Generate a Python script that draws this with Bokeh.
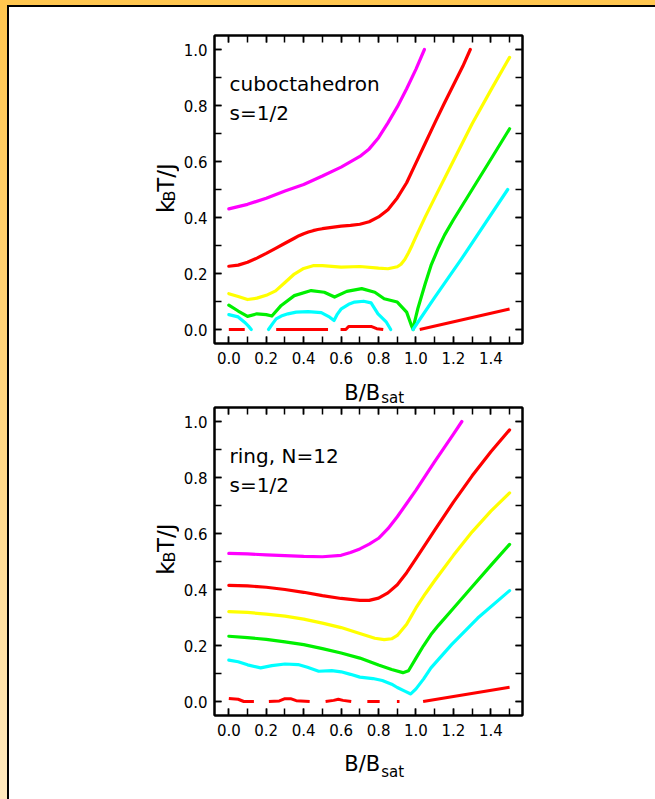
import math
from bokeh.plotting import figure
from bokeh.layouts import column, row
from bokeh.models import (LinearAxis, SingleIntervalTicker, Range1d, Label, CustomJSTickFormatter,
                          PrintfTickFormatter)
from bokeh.core.properties import value
from bokeh.embed import file_html
from bokeh.resources import INLINE

# ---------------- data: cuboctahedron, s=1/2 ----------------
cubo_magenta_x = [0, 0.1, 0.2, 0.3, 0.4, 0.5, 0.6, 0.7, 0.75, 0.8, 0.85, 0.9, 0.95, 1.0, 1.045]
cubo_magenta_y = [0.431, 0.447, 0.469, 0.495, 0.518, 0.548, 0.580, 0.618, 0.645, 0.685, 0.738, 0.795, 0.860, 0.930, 1.0]

cubo_red_x = [0, 0.05, 0.1, 0.15, 0.2, 0.25, 0.3, 0.35, 0.375, 0.4, 0.425, 0.45, 0.475, 0.5, 0.55, 0.6, 0.65, 0.7,
              0.75, 0.8, 0.85, 0.9, 0.95, 1.0, 1.05, 1.1, 1.15, 1.2, 1.25, 1.29]
cubo_red_y = [0.226, 0.230, 0.240, 0.255, 0.272, 0.290, 0.308, 0.326, 0.335, 0.342, 0.348, 0.353, 0.357, 0.360, 0.365,
              0.369, 0.372, 0.376, 0.385, 0.402, 0.428, 0.470, 0.524, 0.595, 0.666, 0.737, 0.806, 0.873, 0.940, 1.0]

cubo_yellow_x = [0, 0.05, 0.1, 0.15, 0.2, 0.25, 0.3, 0.35, 0.4, 0.45, 0.5, 0.6, 0.7, 0.8, 0.85, 0.9, 0.92, 0.94, 0.96,
                 0.98, 1.0, 1.05, 1.1, 1.2, 1.3, 1.4, 1.5]
cubo_yellow_y = [0.128, 0.118, 0.107, 0.112, 0.122, 0.138, 0.168, 0.198, 0.218, 0.228, 0.228, 0.223, 0.225, 0.219, 0.217,
                 0.224, 0.233, 0.250, 0.274, 0.302, 0.332, 0.403, 0.470, 0.603, 0.735, 0.855, 0.972]

cubo_green_x = [0, 0.05, 0.1, 0.15, 0.2, 0.23, 0.28, 0.35, 0.44, 0.51, 0.565, 0.63, 0.71, 0.78, 0.83, 0.9, 0.95, 0.975,
                0.985, 0.99, 1.0, 1.01, 1.029, 1.05, 1.082, 1.12, 1.153, 1.2, 1.3, 1.4, 1.5]
cubo_green_y = [0.087, 0.066, 0.047, 0.056, 0.053, 0.048, 0.086, 0.121, 0.139, 0.133, 0.116, 0.136, 0.146, 0.133, 0.110,
                0.098, 0.062, 0.015, 0.0, 0.020, 0.048, 0.075, 0.118, 0.165, 0.232, 0.292, 0.338, 0.392, 0.500, 0.608, 0.717]

cubo_cyan_x = [[0, 0.05, 0.084, 0.105, 0.12],
               [0.212, 0.235, 0.253, 0.28, 0.316, 0.36, 0.423, 0.494, 0.539, 0.562, 0.58, 0.601, 0.64, 0.672, 0.72, 0.76, 0.797, 0.842, 0.865],
               [0.984, 1.1, 1.243, 1.49]]
cubo_cyan_y = [[0.053, 0.045, 0.026, 0.012, 0.0],
               [0.0, 0.022, 0.038, 0.048, 0.056, 0.062, 0.064, 0.060, 0.044, 0.032, 0.055, 0.074, 0.090, 0.098, 0.101, 0.095, 0.056, 0.026, 0.0],
               [0.0, 0.115, 0.252, 0.500]]

cubo_ground_x = [[0, 0.085], [0.253, 0.53], [0.597, 0.625, 0.64, 0.76, 0.79, 0.825], [1.02, 1.5]]
cubo_ground_y = [[0, 0], [0, 0], [0, 0.0, 0.011, 0.011, 0.003, 0.0], [0, 0.073]]

# ---------------- data: ring N=12, s=1/2 ----------------
ring_magenta_x = [0, 0.1, 0.2, 0.3, 0.4, 0.5, 0.6, 0.65, 0.7, 0.75, 0.8, 0.85, 0.9, 0.95, 1.0, 1.1, 1.2, 1.245]
ring_magenta_y = [0.529, 0.527, 0.524, 0.521, 0.518, 0.517, 0.522, 0.532, 0.545, 0.562, 0.583, 0.617, 0.660, 0.707, 0.755, 0.857, 0.955, 1.0]

ring_red_x = [0, 0.1, 0.2, 0.3, 0.4, 0.5, 0.6, 0.7, 0.75, 0.8, 0.85, 0.9, 0.95, 1.0, 1.1, 1.2, 1.3, 1.4, 1.5]
ring_red_y = [0.415, 0.413, 0.408, 0.400, 0.390, 0.378, 0.368, 0.361, 0.361, 0.369, 0.388, 0.417, 0.460, 0.510, 0.612, 0.712, 0.806, 0.892, 0.970]

ring_yellow_x = [0, 0.1, 0.2, 0.3, 0.4, 0.5, 0.6, 0.7, 0.78, 0.83, 0.87, 0.9, 0.95, 0.975, 1.0, 1.05, 1.1, 1.2, 1.3, 1.4, 1.5]
ring_yellow_y = [0.321, 0.318, 0.312, 0.305, 0.294, 0.280, 0.264, 0.243, 0.226, 0.221, 0.224, 0.236, 0.276, 0.305, 0.334,
                 0.385, 0.432, 0.522, 0.606, 0.680, 0.745]

ring_green_x = [0, 0.1, 0.2, 0.3, 0.4, 0.5, 0.6, 0.7, 0.8, 0.87, 0.93, 0.96, 1.0, 1.04, 1.08, 1.12, 1.2, 1.3, 1.4, 1.5]
ring_green_y = [0.233, 0.228, 0.222, 0.213, 0.203, 0.189, 0.173, 0.155, 0.130, 0.114, 0.103, 0.110, 0.155, 0.199, 0.239,
                0.272, 0.333, 0.410, 0.486, 0.561]

ring_cyan_x = [0, 0.05, 0.1, 0.17, 0.23, 0.3, 0.37, 0.42, 0.48, 0.55, 0.6, 0.65, 0.7, 0.77, 0.82, 0.87, 0.9, 0.94, 0.972,
               1.0, 1.04, 1.08, 1.19, 1.33, 1.5]
ring_cyan_y = [0.148, 0.142, 0.131, 0.120, 0.128, 0.134, 0.132, 0.122, 0.108, 0.110, 0.106, 0.097, 0.087, 0.082, 0.075, 0.062, 0.050, 0.037, 0.027,
               0.045, 0.080, 0.120, 0.203, 0.298, 0.396]

ring_ground_x = [[0, 0.05, 0.08, 0.134], [0.214, 0.27, 0.3, 0.33, 0.36, 0.432], [0.517, 0.56, 0.585, 0.61, 0.654],
                 [0.74, 0.806], [0.898, 0.912], [1.038, 1.5]]
ring_ground_y = [[0.011, 0.008, 0.0, 0.0], [0, 0.002, 0.010, 0.010, 0.003, 0], [0, 0.004, 0.008, 0.004, 0],
                 [0, 0], [0, 0], [0, 0.051]]

tick_interval = 0.2
tick_format = "%.1f"
FONT = "DejaVu Sans"
COLORS = {"magenta": "#FF00FF", "red": "#FF0000", "yellow": "#FFFF00", "green": "#00F000", "cyan": "#00FFFF"}

LABEL_W = 170      # width of the y-label strip
PLOT_W = 476       # width of each panel figure
FRAME = 308
BOTTOM_B = 26
ROW_TOP = [28, 2]
ROW_H = [ROW_TOP[0] + FRAME + BOTTOM_B, ROW_TOP[1] + FRAME + BOTTOM_B]
LW = 3.2


def make_panel(height, top, curves, cyan_segments, ground, title_lines):
    p = figure(width=PLOT_W, height=height, output_backend="svg", toolbar_location=None,
               x_range=Range1d(-0.0765, 1.569), y_range=Range1d(-0.05, 1.05),
               min_border_left=35, min_border_right=PLOT_W - 35 - FRAME, min_border_top=top,
               min_border_bottom=BOTTOM_B,
               x_axis_type=None, y_axis_type=None)
    p.grid.visible = False
    p.outline_line_color = "black"
    p.outline_line_width = 2
    p.background_fill_color = "white"
    p.border_fill_color = "white"

    def style(ax, labels):
        ax.ticker = SingleIntervalTicker(interval=tick_interval, num_minor_ticks=2)
        ax.axis_line_color = "black"
        ax.axis_line_width = 2
        ax.major_tick_in = 7
        ax.major_tick_out = 0
        ax.minor_tick_in = 7
        ax.minor_tick_out = 0
        ax.major_tick_line_width = 1.5
        ax.minor_tick_line_width = 1.5
        ax.major_label_text_font = FONT
        ax.major_label_text_color = "black"
        if labels:
            ax.formatter = PrintfTickFormatter(format=tick_format)
            ax.major_label_text_font_size = "15px"
        else:
            ax.formatter = CustomJSTickFormatter(code="return ''")
            ax.major_label_standoff = 0
            ax.major_label_text_font_size = "1px"
        return ax

    bx = style(LinearAxis(), True)
    bx.major_label_standoff = 8
    p.add_layout(bx, "below")
    ly = style(LinearAxis(), True)
    ly.major_label_standoff = 7
    p.add_layout(ly, "left")
    p.add_layout(style(LinearAxis(), False), "above")
    p.add_layout(style(LinearAxis(), False), "right")

    for (xs, ys, c) in curves:
        p.line(xs, ys, line_color=COLORS[c], line_width=LW, line_cap="round", line_join="round")
    p.multi_line(cyan_segments[0], cyan_segments[1], line_color=COLORS["cyan"], line_width=LW,
                 line_cap="round", line_join="round")
    p.multi_line(ground[0], ground[1], line_color=COLORS["red"], line_width=3.0, line_cap="butt",
                 line_join="round")

    for txt, yy in title_lines:
        p.add_layout(Label(x=0.004, y=yy, text=txt, text_font=FONT, text_font_size="20px",
                           text_align="left", text_baseline="alphabetic", text_color="black"))
    return p


def strip(width, height):
    s = figure(width=width, height=height, output_backend="svg", toolbar_location=None,
               x_range=Range1d(0, width), y_range=Range1d(0, height),
               min_border=0, x_axis_type=None, y_axis_type=None)
    s.grid.visible = False
    s.outline_line_color = None
    s.background_fill_color = "white"
    s.border_fill_color = "white"
    return s


def y_label(height):
    s = strip(LABEL_W, height)
    ang = math.pi / 2
    common = dict(angle=ang, text_font=value(FONT), text_align="left", text_baseline="alphabetic",
                  text_color="black")
    center = BOTTOM_B + FRAME / 2
    s.text(x=[156], y=[center - 26.5], text=["k"], text_font_size="23px", **common)
    s.text(x=[159.5], y=[center - 13.2], text=["B"], text_font_size="16px", **common)
    s.text(x=[156], y=[center - 1.7], text=["T/J"], text_font_size="23px", **common)
    return s


def x_label(height, base_main, base_sub):
    s = strip(LABEL_W + PLOT_W, height)
    common = dict(text_font=value(FONT), text_align="left", text_baseline="alphabetic", text_color="black")
    s.text(x=[334.8], y=[base_main], text=["B/B"], text_font_size="21px", **common)
    s.text(x=[371.7], y=[base_sub], text=["sat"], text_font_size="15px", **common)
    return s


p1 = make_panel(ROW_H[0], ROW_TOP[0],
                [(cubo_magenta_x, cubo_magenta_y, "magenta"), (cubo_red_x, cubo_red_y, "red"),
                 (cubo_yellow_x, cubo_yellow_y, "yellow"), (cubo_green_x, cubo_green_y, "green")],
                (cubo_cyan_x, cubo_cyan_y), (cubo_ground_x, cubo_ground_y),
                [("cuboctahedron", 0.8775), ("s=1/2", 0.775)])

p2 = make_panel(ROW_H[1], ROW_TOP[1],
                [(ring_magenta_x, ring_magenta_y, "magenta"), (ring_red_x, ring_red_y, "red"),
                 (ring_yellow_x, ring_yellow_y, "yellow"), (ring_green_x, ring_green_y, "green")],
                ([ring_cyan_x], [ring_cyan_y]), (ring_ground_x, ring_ground_y),
                [("ring,  N=12", 0.878), ("s=1/2", 0.775)])

inner = column(
    row(y_label(ROW_H[0]), p1, spacing=0),
    x_label(36, 13, 8),
    row(y_label(ROW_H[1]), p2, spacing=0),
    x_label(58, 36, 28),
    spacing=0,
    styles={"border-left": "2px solid #000000", "border-top": "2px solid #000000",
            "background-color": "white"},
)

layout = column(inner, spacing=0,
                styles={"padding-left": "7px", "padding-top": "5px",
                        "background": "linear-gradient(to bottom, #FFC64F 0%, #FFD98A 60%, #FFE9BE 100%)"})

open("out.html", "w").write(file_html(layout, INLINE))
